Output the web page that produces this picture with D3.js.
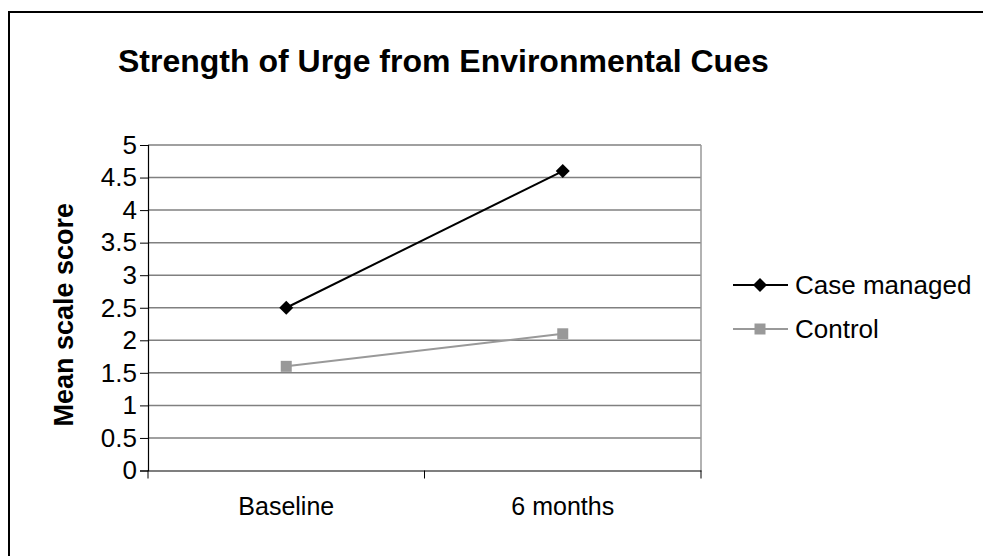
<!DOCTYPE html>
<html>
<head>
<meta charset="utf-8">
<script src="https://cdn.jsdelivr.net/npm/d3@7"></script>
<style>
  body { margin: 0; background: #fff; }
  text { font-family: Arial, "Liberation Sans", sans-serif; fill: #000; }
</style>
</head>
<body>
<svg id="chart" width="983" height="556"></svg>
<script>
var categories = ['Baseline', '6 months'];
var case_managed = [2.5, 4.6];
var control = [1.6, 2.1];
var y_ticks = [0, 0.5, 1, 1.5, 2, 2.5, 3, 3.5, 4, 4.5, 5];

var series = [
    {'name': 'Case managed', 'values': case_managed, 'color': '#000000', 'marker': 'diamond'},
    {'name': 'Control', 'values': control, 'color': '#999999', 'marker': 'square'}
];

var svg = d3.select('#chart');
var font = 'Arial, "Liberation Sans", sans-serif';

// outer frame, runs off the right and bottom edges
svg.append('rect')
    .attr('x', 9).attr('y', 12)
    .attr('width', 1000).attr('height', 600)
    .attr('fill', 'none')
    .attr('stroke', '#000')
    .attr('stroke-width', 2);

var plot_left = 148, plot_right = 701, plot_top = 145, plot_bottom = 470.5;

var x = d3.scaleBand().domain(categories).range([plot_left, plot_right]);
var y = d3.scaleLinear().domain([0, 5]).range([plot_bottom, plot_top]);

svg.append('text')
    .attr('x', 118).attr('y', 72)
    .attr('font-size', 32)
    .attr('font-weight', 'bold')
    .text('Strength of Urge from Environmental Cues');

// grid lines
svg.append('g').selectAll('line')
    .data(y_ticks.slice(1))
    .enter().append('line')
    .attr('x1', plot_left).attr('x2', plot_right)
    .attr('y1', function(d) { return y(d); })
    .attr('y2', function(d) { return y(d); })
    .attr('stroke', '#808080')
    .attr('stroke-width', 1.5);

// right border of plot area
svg.append('line')
    .attr('x1', plot_right).attr('x2', plot_right)
    .attr('y1', plot_top).attr('y2', plot_bottom)
    .attr('stroke', '#999')
    .attr('stroke-width', 1.5);

var yAxis = svg.append('g')
    .attr('transform', 'translate(' + plot_left + ',0)')
    .call(d3.axisLeft(y).tickValues(y_ticks).tickSize(8).tickPadding(3)
          .tickFormat(function(d) { return d; }));
yAxis.select('.domain').attr('stroke', '#000').attr('stroke-width', 1.2);
yAxis.selectAll('.tick line').attr('stroke', '#000');
yAxis.selectAll('text').attr('font-size', 26).attr('fill', '#000')
    .attr('font-family', font);

var xAxis = svg.append('g')
    .attr('transform', 'translate(0,' + plot_bottom + ')')
    .call(d3.axisBottom(x).tickSize(0).tickPadding(27));
xAxis.select('.domain').attr('stroke', '#000').attr('stroke-width', 1.2);
xAxis.selectAll('text').attr('font-size', 25).attr('fill', '#000')
    .attr('font-family', font);

// category separators below the axis
var seps = [plot_left, plot_left + x.bandwidth(), plot_right];
svg.append('g').selectAll('line')
    .data(seps)
    .enter().append('line')
    .attr('x1', function(d) { return d; })
    .attr('x2', function(d) { return d; })
    .attr('y1', plot_bottom).attr('y2', plot_bottom + 8)
    .attr('stroke', '#000');

svg.append('text')
    .attr('transform', 'translate(73,' + ((plot_top + plot_bottom) / 2 + 7) + ') rotate(-90)')
    .attr('text-anchor', 'middle')
    .attr('font-size', 27)
    .attr('font-weight', 'bold')
    .text('Mean scale score');

var cx = function(d, i) { return x(categories[i]) + x.bandwidth() / 2; };

var line = d3.line()
    .x(function(d, i) { return cx(d, i); })
    .y(function(d) { return y(d); });

var drawMarker = function(g, s, px, py) {
    if (s.marker === 'diamond') {
        g.append('path')
            .attr('d', 'M' + px + ',' + (py - 7) + 'L' + (px + 7) + ',' + py +
                  'L' + px + ',' + (py + 7) + 'L' + (px - 7) + ',' + py + 'Z')
            .attr('fill', s.color);
    } else {
        g.append('rect')
            .attr('x', px - 5.5).attr('y', py - 5.5)
            .attr('width', 11).attr('height', 11)
            .attr('fill', s.color);
    }
};

series.forEach(function(s) {
    var g = svg.append('g');
    g.append('path')
        .attr('d', line(s.values))
        .attr('fill', 'none')
        .attr('stroke', s.color)
        .attr('stroke-width', 2);
    s.values.forEach(function(v, i) {
        drawMarker(g, s, cx(v, i), y(v));
    });
});

// legend
var legend = svg.append('g');
series.forEach(function(s, i) {
    var ly = 285 + i * 44;
    legend.append('line')
        .attr('x1', 733).attr('x2', 788)
        .attr('y1', ly).attr('y2', ly)
        .attr('stroke', s.color)
        .attr('stroke-width', 2);
    drawMarker(legend, s, 760, ly);
    legend.append('text')
        .attr('x', 795).attr('y', ly)
        .attr('dy', '0.35em')
        .attr('font-size', 26)
        .text(s.name);
});
</script>
</body>
</html>
